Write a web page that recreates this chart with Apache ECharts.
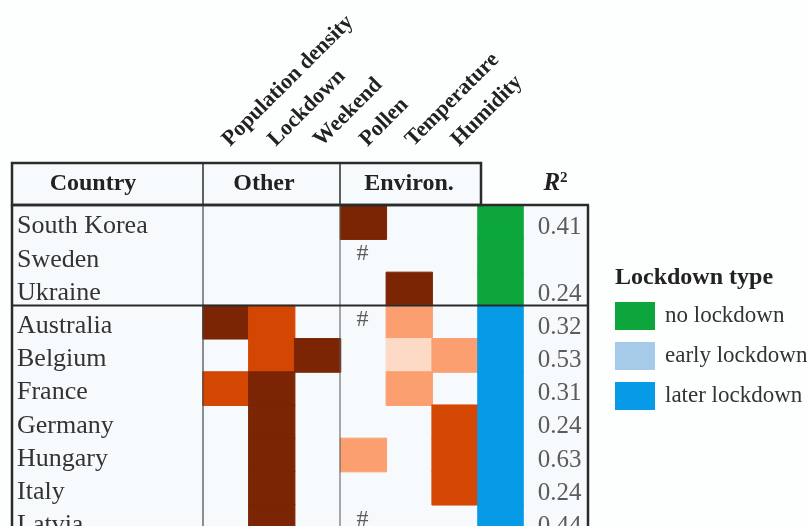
<!DOCTYPE html>
<html><head><meta charset="utf-8">
<script src="https://cdn.jsdelivr.net/npm/echarts@6/dist/echarts.min.js"></script>
<style>html,body{margin:0;padding:0;background:#fff}#c{width:808px;height:526px}</style>
</head><body><div id="c"></div>
<script>
// ---------------- data ----------------
const countries = ['South Korea','Sweden','Ukraine','Australia','Belgium','France','Germany','Hungary','Italy','Latvia'];
const factors = ['Population density','Lockdown','Weekend','Pollen','Temperature','Humidity'];
const groupHeaders = ['Country','Other','Environ.'];
// effect strength level per country (0 = none, 1 = weak ... 4 = strong)
const popDensity  = [0,0,0,4,0,3,0,0,0,0];
const lockdownEff = [0,0,0,3,3,4,4,4,4,4];
const weekend     = [0,0,0,0,4,0,0,0,0,0];
const pollen      = [4,0,0,0,0,0,0,2,0,0];
const temperature = [0,0,4,2,1,2,0,0,0,0];
const humidity    = [0,0,0,0,2,0,3,3,3,0];
const pollenNote  = ['','#','','#','','','','','','#'];
const lockdownTypes = ['no lockdown','early lockdown','later lockdown'];
const countryLockdown = ['no lockdown','no lockdown','no lockdown','later lockdown','later lockdown','later lockdown','later lockdown','later lockdown','later lockdown','later lockdown'];
const r2 = [0.41, null, 0.24, 0.32, 0.53, 0.31, 0.24, 0.63, 0.24, 0.44];

// ---------------- style / layout ----------------
const FONT = "'Liberation Serif','Times New Roman',serif";
const levelColors = {1:'#fddac6', 2:'#fc9f70', 3:'#d44703', 4:'#7b2504'};
const typeColors = ['#0ca63c','#a6cbe8','#079ae6'];
const X_LEFT = 12, X_COUNTRY_END = 203, X_OTHER_END = 340, X_LOCK = 478, X_R2 = 523, X_RIGHT = 588;
const HEAD_TOP = 163, BODY_TOP = 206, ROW_H = 33.2;
const CELL_W = (X_LOCK - X_COUNTRY_END) / factors.length;
const GRID_H = ROW_H * countries.length;
const LINE = '#2b2b2b', BG = '#f6fafc';

const factorColumns = [popDensity, lockdownEff, weekend, pollen, temperature, humidity];
const effectData = [];
factorColumns.forEach((col, ci) => col.forEach((lvl, ri) => {
  if (lvl > 0) effectData.push({ value: [ci, ri, lvl], itemStyle: { borderColor: levelColors[lvl], borderWidth: 1 } });
}));
const noteData = [];
pollenNote.forEach((n, ri) => { if (n) noteData.push({ value: [factors.indexOf('Pollen'), ri], name: n }); });
const r2Data = [];
r2.forEach((v, ri) => { if (v != null) r2Data.push([0, ri, v]); });

const chart = echarts.init(document.getElementById('c'), null, { renderer: 'canvas' });

const hiddenCat = (data) => ({ type: 'category', data, show: false, inverse: true });
const gridAt = (left, width) => ({ left, top: BODY_TOP, width, height: GRID_H, outerBoundsMode: 'none', containLabel: false });

const lockSeries = lockdownTypes.map((t, ti) => ({
  type: 'heatmap', name: t, xAxisIndex: 2, yAxisIndex: 2,
  itemStyle: { color: typeColors[ti], borderColor: typeColors[ti], borderWidth: 1 },
  emphasis: { disabled: true },
  data: countryLockdown.map((c, ri) => c === t ? [0, ri, 1] : null).filter(d => d)
}));

const option = {
  backgroundColor: '#fdfefe',
  animation: false,
  title: {
    text: 'Lockdown type', left: 615, top: 266, padding: 0,
    textStyle: { fontFamily: FONT, fontSize: 24, fontWeight: 'bold', color: '#222' }
  },
  legend: {
    orient: 'vertical', left: 615, top: 302, padding: 0,
    itemWidth: 40, itemHeight: 28, itemGap: 12, icon: 'rect', selectedMode: false,
    data: lockdownTypes.map((n, i) => ({ name: n, itemStyle: { color: typeColors[i], borderWidth: 0 } })),
    textStyle: { fontFamily: FONT, fontSize: 23, color: '#333', padding: [0, 0, 0, 5] }
  },
  grid: [
    gridAt(X_COUNTRY_END, CELL_W * factors.length),
    gridAt(X_COUNTRY_END, CELL_W * factors.length),
    gridAt(X_LOCK, X_R2 - X_LOCK),
    gridAt(X_R2, X_RIGHT - X_R2)
  ],
  xAxis: [
    { gridIndex: 0, type: 'category', data: factors, position: 'top',
      axisLine: { show: false }, axisTick: { show: false }, splitLine: { show: false },
      axisLabel: { rotate: -45, margin: 63, interval: 0, fontFamily: FONT, fontSize: 22, fontWeight: 'bold', color: '#222' } },
    { gridIndex: 1, type: 'category', data: factors, show: false },
    { gridIndex: 2, type: 'category', data: ['Lockdown type'], show: false },
    { gridIndex: 3, type: 'category', data: ['R²'], position: 'top',
      axisLine: { show: false }, axisTick: { show: false },
      axisLabel: { margin: 10, interval: 0,
        formatter: () => '{i|R}{s|2}',
        rich: {
          i: { fontFamily: FONT, fontSize: 25, fontWeight: 'bold', fontStyle: 'italic', color: '#222' },
          s: { fontFamily: FONT, fontSize: 15, fontWeight: 'bold', color: '#222', verticalAlign: 'top' }
        } } }
  ],
  yAxis: [
    Object.assign(hiddenCat(countries), { gridIndex: 0 }),
    { gridIndex: 1, type: 'category', data: countries, inverse: true,
      axisLine: { show: false }, axisTick: { show: false }, splitLine: { show: false },
      axisLabel: { align: 'left', margin: X_COUNTRY_END - 17, interval: 0,
        formatter: v => '{n|' + v + '}',
        rich: { n: { fontFamily: FONT, fontSize: 26, color: '#333', padding: [8, 0, 0, 0] } } } },
    Object.assign(hiddenCat(countries), { gridIndex: 2 }),
    Object.assign(hiddenCat(countries), { gridIndex: 3 })
  ],
  visualMap: [
    { type: 'piecewise', show: false, seriesIndex: 0, dimension: 2,
      pieces: Object.keys(levelColors).map(k => ({ value: +k, color: levelColors[k] })) }
  ].concat(lockdownTypes.map((t, ti) => ({
      type: 'continuous', show: false, seriesIndex: ti + 1, dimension: 2, min: 0, max: 1,
      inRange: { color: [typeColors[ti], typeColors[ti]] } }))),
  series: [
    { type: 'heatmap', name: 'Effect', xAxisIndex: 1, yAxisIndex: 1, data: effectData, emphasis: { disabled: true } }
  ].concat(lockSeries).concat([
    { type: 'scatter', name: 'R2', xAxisIndex: 3, yAxisIndex: 3, data: r2Data,
      symbolSize: 1, itemStyle: { color: 'rgba(0,0,0,0)' }, emphasis: { disabled: true },
      label: { show: true, position: 'inside', align: 'right', offset: [26, 5],
        formatter: p => p.value[2].toFixed(2), fontFamily: FONT, fontSize: 25, color: '#333' } },
    { type: 'scatter', name: 'notes', xAxisIndex: 1, yAxisIndex: 1, data: noteData,
      symbolSize: 1, itemStyle: { color: 'rgba(0,0,0,0)' }, emphasis: { disabled: true },
      label: { show: true, position: 'inside', formatter: '{b}', offset: [-1, -2],
        fontFamily: FONT, fontSize: 24, color: '#333' } }
  ]),
  graphic: [
    { type: 'rect', z: -1, shape: { x: X_LEFT, y: HEAD_TOP, width: X_LOCK + 3 - X_LEFT, height: BODY_TOP - HEAD_TOP }, style: { fill: BG } },
    { type: 'rect', z: -1, shape: { x: X_LEFT, y: BODY_TOP - 1, width: X_RIGHT - X_LEFT, height: 400 }, style: { fill: BG } },
    // header box
    { type: 'rect', z: 100, shape: { x: X_LEFT, y: HEAD_TOP, width: X_LOCK + 3 - X_LEFT, height: BODY_TOP - 1 - HEAD_TOP }, style: { fill: null, stroke: LINE, lineWidth: 2.5 } },
    { type: 'line', z: 100, shape: { x1: X_COUNTRY_END, y1: HEAD_TOP, x2: X_COUNTRY_END, y2: BODY_TOP }, style: { stroke: LINE, lineWidth: 1.5 } },
    { type: 'line', z: 100, shape: { x1: X_OTHER_END, y1: HEAD_TOP, x2: X_OTHER_END, y2: BODY_TOP }, style: { stroke: LINE, lineWidth: 1.5 } },
    // body frame
    { type: 'line', z: 100, shape: { x1: X_LEFT - 1, y1: BODY_TOP - 1, x2: X_RIGHT + 1, y2: BODY_TOP - 1 }, style: { stroke: LINE, lineWidth: 2.5 } },
    { type: 'line', z: 100, shape: { x1: X_LEFT, y1: BODY_TOP - 1, x2: X_LEFT, y2: 600 }, style: { stroke: LINE, lineWidth: 2.5 } },
    { type: 'line', z: 100, shape: { x1: X_RIGHT, y1: BODY_TOP - 1, x2: X_RIGHT, y2: 600 }, style: { stroke: LINE, lineWidth: 2.5 } },
    { type: 'line', z: 100, shape: { x1: X_COUNTRY_END, y1: BODY_TOP, x2: X_COUNTRY_END, y2: 600 }, style: { stroke: '#444', lineWidth: 1.2 } },
    { type: 'line', z: 100, shape: { x1: X_OTHER_END, y1: BODY_TOP, x2: X_OTHER_END, y2: 600 }, style: { stroke: '#555', lineWidth: 1 } },
    { type: 'line', z: 100, shape: { x1: X_LEFT, y1: BODY_TOP + 3 * ROW_H, x2: X_RIGHT, y2: BODY_TOP + 3 * ROW_H }, style: { stroke: LINE, lineWidth: 2 } },
    // group headers
    { type: 'text', z: 101, x: 93, y: 184,
      style: { text: groupHeaders[0], align: 'center', verticalAlign: 'middle', fontFamily: FONT, fontSize: 24, fontWeight: 'bold', fill: '#222' } },
    { type: 'text', z: 101, x: 264, y: 184,
      style: { text: groupHeaders[1], align: 'center', verticalAlign: 'middle', fontFamily: FONT, fontSize: 24, fontWeight: 'bold', fill: '#222' } },
    { type: 'text', z: 101, x: 409, y: 184,
      style: { text: groupHeaders[2], align: 'center', verticalAlign: 'middle', fontFamily: FONT, fontSize: 24, fontWeight: 'bold', fill: '#222' } }
  ]
};
chart.setOption(option);
</script>
</body></html>
